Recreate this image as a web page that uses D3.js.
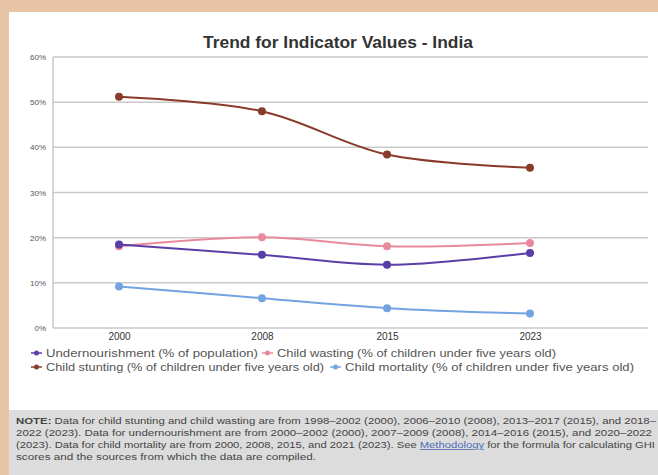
<!DOCTYPE html>
<html><head><meta charset="utf-8">
<script src="https://cdn.jsdelivr.net/npm/d3@7"></script>
<style>html,body{margin:0;padding:0;background:#e8c5a7;}svg{display:block;}</style>
</head><body>
<svg id="c" width="658" height="475"></svg>
<script>
const years = [2000, 2008, 2015, 2023];
const yTicks = [0, 10, 20, 30, 40, 50, 60];
const undernourishment = [18.5, 16.2, 14.0, 16.6];
const childWasting = [18.1, 20.1, 18.1, 18.8];
const childStunting = [51.2, 48.0, 38.4, 35.5];
const childMortality = [9.2, 6.6, 4.4, 3.2];
const seriesNames = ["Undernourishment (% of population)", "Child wasting (% of children under five years old)", "Child stunting (% of children under five years old)", "Child mortality (% of children under five years old)"];
const noteLines = [
 "Data for child stunting and child wasting are from 1998–2002 (2000), 2006–2010 (2008), 2013–2017 (2015), and 2018–",
 "2022 (2023). Data for undernourishment are from 2000–2002 (2000), 2007–2009 (2008), 2014–2016 (2015), and 2020–2022",
 "(2023). Data for child mortality are from 2000, 2008, 2015, and 2021 (2023). See ",
 "scores and the sources from which the data are compiled."
];

const svg = d3.select("#c");
const F = "'Liberation Sans Narrow','Liberation Sans',Arial,sans-serif";
const FS = "'Liberation Sans',Arial,sans-serif";

// background card
svg.append("rect").attr("x",0).attr("y",0).attr("width",658).attr("height",475).attr("fill","#e8c5a7");
svg.append("rect").attr("x",9).attr("y",12).attr("width",649).attr("height",398).attr("fill","#ffffff");
svg.append("rect").attr("x",9).attr("y",410).attr("width",649).attr("height",65).attr("fill","#dcdcdc");

const x = d3.scaleLinear().domain([2000, 2023]).range([119, 530]);
const y = d3.scaleLinear().domain([0, 60]).range([328, 57]);

// gridlines
const g = svg.append("g");
g.selectAll("line.grid").data(yTicks).join("line")
 .attr("x1", 53).attr("x2", 648).attr("y1", d=>y(d)).attr("y2", d=>y(d))
 .attr("stroke", "#c9c9c9").attr("stroke-width", 1.5);
g.append("line").attr("x1",53).attr("x2",53).attr("y1",y(60)).attr("y2",y(0)).attr("stroke","#c9c9c9").attr("stroke-width",1.5);

// y labels
const yAxis = d3.axisLeft(y).tickValues(yTicks).tickFormat(d=>d+"%").tickSize(0).tickPadding(7);
const ya = svg.append("g").attr("transform","translate(53,0)").call(yAxis);
ya.select(".domain").remove();
ya.selectAll("text").attr("font-family",F).attr("font-size",8).attr("fill","#555");

// x labels
const xAxis = d3.axisBottom(x).tickValues(years).tickFormat(d3.format("d")).tickSize(0).tickPadding(5);
const xa = svg.append("g").attr("transform","translate(0,328)").call(xAxis);
xa.select(".domain").remove();
xa.selectAll("text").attr("font-family",F).attr("font-size",10).attr("fill","#333");

// title
svg.append("text").attr("x",203).attr("y",48)
 .attr("font-family",FS).attr("font-weight","bold").attr("font-size",16.5)
 .attr("textLength",270).attr("lengthAdjust","spacingAndGlyphs")
 .attr("fill","#333").text("Trend for Indicator Values - India");

const series = [
 {name: seriesNames[0], values: undernourishment, color: "#5a3ea8"},
 {name: seriesNames[1], values: childWasting, color: "#e98a9c"},
 {name: seriesNames[2], values: childStunting, color: "#8a3a2a"},
 {name: seriesNames[3], values: childMortality, color: "#74a3e2"}
];
const line = d3.line().x((d,i)=>x(years[i])).y(d=>y(d)).curve(d3.curveCatmullRom.alpha(0.5));
const drawOrder = [3, 1, 0, 2];
drawOrder.forEach(k=>{
 const s = series[k];
 svg.append("path").attr("d", line(s.values)).attr("fill","none").attr("stroke",s.color).attr("stroke-width",2);
 svg.selectAll(null).data(s.values).join("circle")
  .attr("cx",(d,i)=>x(years[i])).attr("cy",d=>y(d)).attr("r",4).attr("fill",s.color);
});

// legend
const legendPos = [{x:31,y:353,s:0,w:212},{x:262,y:353,s:1,w:279},{x:31,y:367,s:2,w:278},{x:330,y:367,s:3,w:289}];
legendPos.forEach(p=>{
 const s = series[p.s];
 const lg = svg.append("g").attr("transform",`translate(${p.x},${p.y})`);
 lg.append("line").attr("x1",0).attr("x2",11).attr("y1",0).attr("y2",0).attr("stroke",s.color).attr("stroke-width",1.5);
 lg.append("circle").attr("cx",5.5).attr("cy",0).attr("r",2.5).attr("fill",s.color);
 lg.append("text").attr("x",15).attr("y",4).attr("font-family",FS)
  .attr("font-size",11).attr("textLength",p.w).attr("lengthAdjust","spacingAndGlyphs")
  .attr("fill","#555").text(s.name);
});

// note
const nt = svg.append("g").attr("font-family",F).attr("font-size",8.5).attr("fill","#444");
const t1 = nt.append("text").attr("x",16).attr("y",424).attr("textLength",640).attr("lengthAdjust","spacingAndGlyphs");
t1.append("tspan").attr("font-weight","bold").text("NOTE: ");
t1.append("tspan").text(noteLines[0]);
nt.append("text").attr("x",16).attr("y",436).attr("textLength",636).attr("lengthAdjust","spacingAndGlyphs").text(noteLines[1]);
const t3 = nt.append("text").attr("x",16).attr("y",448).attr("textLength",639).attr("lengthAdjust","spacingAndGlyphs");
t3.append("tspan").text(noteLines[2]);
t3.append("tspan").attr("fill","#4a6fb5").attr("text-decoration","underline").text("Methodology");
t3.append("tspan").text(" for the formula for calculating GHI");
nt.append("text").attr("x",16).attr("y",460).attr("textLength",300).attr("lengthAdjust","spacingAndGlyphs").text(noteLines[3]);
</script>
</body></html>
